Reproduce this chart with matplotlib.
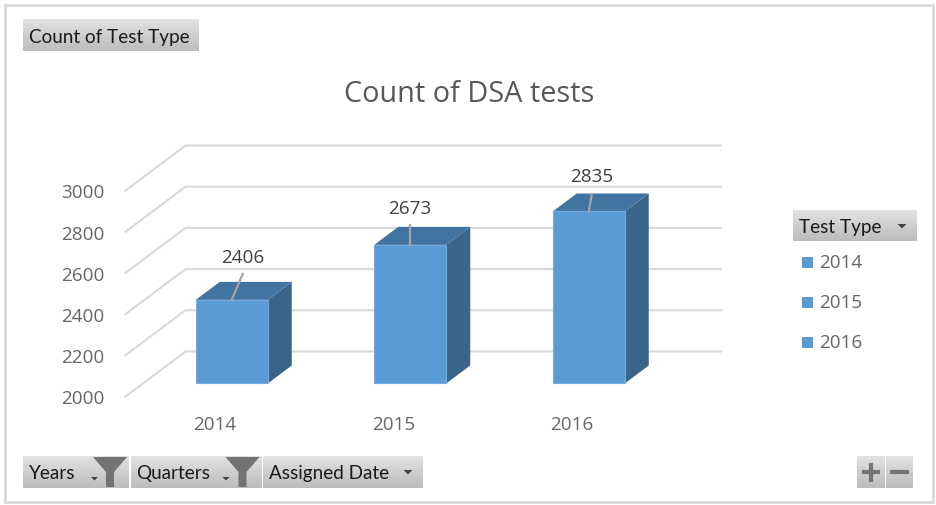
import numpy as np
import matplotlib
matplotlib.use('Agg')
import matplotlib.pyplot as plt
from matplotlib.patches import Rectangle, Polygon

years = ['2014', '2015', '2016']
counts = [2406, 2673, 2835]
y_ticks = [2000, 2200, 2400, 2600, 2800, 3000]
legend_labels = ['2014', '2015', '2016']
filter_buttons = ['Years', 'Quarters', 'Assigned Date']

W, H = 937, 506
PX_X = 1 / 178.5      # category units per pixel
PX_Y = 1000 / 206     # value units per pixel
BLUE = '#5b9bd5'
CHART_FONT = ['Open Sans', 'DejaVu Sans']
BTN_FONT = ['Lato', 'DejaVu Sans']

fig = plt.figure(figsize=(W / 100, H / 100), dpi=100, facecolor='white')

# pixel layer for the pivot chart buttons and frame
bg = fig.add_axes([0, 0, 1, 1])
bg.axis('off')
grad = np.linspace(0, 1, 64).reshape(-1, 1)
cm = matplotlib.colors.LinearSegmentedColormap.from_list('btn', ['#e2e2e2', '#bcbcbc'])


def button(x0, x1, y0, y1):
    bg.imshow(grad, extent=(x0, x1, y1, y0), aspect='auto', cmap=cm, zorder=2)


def arrow(x, y, r=4.5):
    bg.add_patch(Polygon([(x - r, y), (x + r, y), (x, y + r)], color='#404040', zorder=4, lw=0))


def funnel(x):
    pts = [(x - 17, 457), (x + 17, 457), (x + 4, 472), (x + 4, 487), (x - 4, 487), (x - 4, 472)]
    bg.add_patch(Polygon(pts, color='#737373', zorder=4, lw=0))


bg.add_patch(Rectangle((5, 5), 928, 497, fill=False, ec='#d9d9d9', lw=2, zorder=1))

button(23, 199, 19, 51)
bg.text(29, 36, 'Count of Test Type', family=BTN_FONT, fontsize=13.6, color='#1a1a1a', va='center', zorder=5)

button(23, 129, 456, 488)
button(131, 262, 456, 488)
button(263, 423, 456, 488)
bg.text(29, 473, filter_buttons[0], family=BTN_FONT, fontsize=13.6, color='#1a1a1a', va='center', zorder=5)
bg.text(136, 473, filter_buttons[1], family=BTN_FONT, fontsize=13.6, color='#1a1a1a', va='center', zorder=5)
bg.text(269, 473, filter_buttons[2], family=BTN_FONT, fontsize=13.6, color='#1a1a1a', va='center', zorder=5)
funnel(110)
funnel(242.5)
arrow(94.5, 477, 3.5)
arrow(226, 477, 3.5)
arrow(408, 470)

button(793, 917, 210, 241)
bg.text(799, 227, 'Test Type', family=BTN_FONT, fontsize=13.6, color='#1a1a1a', va='center', zorder=5)
arrow(902, 224)
for i, lab in enumerate(legend_labels):
    yc = 262 + 40 * i
    bg.add_patch(Rectangle((802, yc - 5.5), 11, 11, color=BLUE, lw=0, zorder=3))
    bg.text(819, yc, lab, family=CHART_FONT, fontsize=13.6, color='#666666', va='center', zorder=5)

button(857, 885, 456, 488)
button(886, 913, 456, 488)
bg.plot([871, 871], [463, 482], color='#737373', lw=3, zorder=5, solid_capstyle='butt')
bg.plot([862, 880], [472, 472], color='#737373', lw=3, zorder=5, solid_capstyle='butt')
bg.plot([890, 909], [472, 472], color='#737373', lw=3, zorder=5, solid_capstyle='butt')

bg.text(469.5, 93, 'Count of DSA tests', family=CHART_FONT, fontsize=20.8, color='#595959',
        ha='center', va='center', zorder=5)
bg.set_xlim(0, W)
bg.set_ylim(H - 1, -1)

# chart axes = front plane of the 3d box
ax = fig.add_axes([125.5 / W, (H - 397.5) / H, 535.5 / W, 206 / H])
ax.patch.set_alpha(0)
ax.set_xlim(-0.5, 2.5)
ax.set_ylim(2000, 3000)
for s in ax.spines.values():
    s.set_visible(False)
ax.set_yticks(y_ticks)
ax.set_xticks(range(len(years)))
ax.set_xticklabels(years)
ax.tick_params(length=0, labelsize=13.6, labelcolor='#666666')
ax.tick_params(axis='x', pad=13)
ax.tick_params(axis='y', pad=15)
for t in ax.get_xticklabels() + ax.get_yticklabels():
    t.set_family(CHART_FONT)

# wall gridlines
wall_dx, wall_dy = 60 * PX_X, 45 * PX_Y
for v in y_ticks:
    ax.plot([-0.5, -0.5 + wall_dx, 2.5 + wall_dx], [v, v + wall_dy, v + wall_dy],
            color='#d9d9d9', lw=1.5, clip_on=False, zorder=1)

# bars
front_dx, front_dy = 17 * PX_X, 13 * PX_Y
depth_dx, depth_dy = 24 * PX_X, 18 * PX_Y
half = 36 * PX_X
label_dx = [11, 0, 3]
label_gap = [43, 37, 35]
leader_top = [26, 20, 17]
for i, v in enumerate(counts):
    xc = i + front_dx
    x0, x1 = xc - half, xc + half
    y0, y1 = 2000 + front_dy, v + front_dy
    side = [(x1, y0), (x1 + depth_dx, y0 + depth_dy), (x1 + depth_dx, y1 + depth_dy), (x1, y1)]
    top = [(x0, y1), (x1, y1), (x1 + depth_dx, y1 + depth_dy), (x0 + depth_dx, y1 + depth_dy)]
    ax.add_patch(Polygon(side, color='#3a6488', lw=0, zorder=3, clip_on=False))
    ax.add_patch(Polygon(top, color='#4274a2', lw=0, zorder=3, clip_on=False))
    ax.add_patch(Rectangle((x0, y0), x1 - x0, y1 - y0, fc=BLUE, ec='#74acdf', lw=0.8, zorder=4, clip_on=False))
    ax.plot([xc, xc + label_dx[i] * PX_X], [y1, y1 + leader_top[i] * PX_Y], color='#a6a6a6', lw=1.6,
            zorder=5, clip_on=False)
    ax.text(xc + label_dx[i] * PX_X, y1 + label_gap[i] * PX_Y, str(v), family=CHART_FONT, fontsize=13.6,
            color='#404040', ha='center', va='center', zorder=6)

fig.savefig('out.png', dpi=100)
